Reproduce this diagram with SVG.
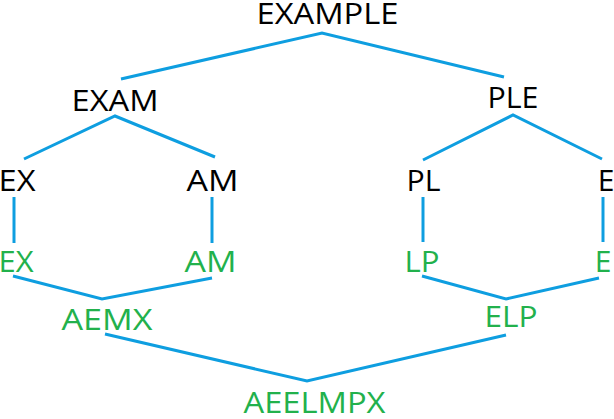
<svg xmlns="http://www.w3.org/2000/svg" width="614" height="419" viewBox="0 0 614 419">
<style>
text{font-family:"Open Sans","Liberation Sans",sans-serif;font-size:30px;text-anchor:middle}
.s{fill:#000}
.m{fill:#22B14C}
.c{fill:none;stroke:#0E9EE0;stroke-width:3;stroke-linejoin:miter;stroke-linecap:butt}
</style>
<rect width="614" height="419" fill="#fff"/>
<g id="connectors">
<polyline class="c" points="121,79 322,33 504,77"/>
<polyline class="c" points="24,159 115,116 215,157"/>
<polyline class="c" points="423,160 513,115 602,159"/>
<line class="c" x1="14" y1="197" x2="14" y2="243"/>
<line class="c" x1="212" y1="197" x2="212" y2="243"/>
<line class="c" x1="423" y1="197" x2="423" y2="242"/>
<line class="c" x1="603" y1="197" x2="603" y2="242"/>
<polyline class="c" points="13,276 102,299 212,278"/>
<polyline class="c" points="422,276 506,299 599,278"/>
<polyline class="c" points="105,334 307,381 506,335"/>
</g>
<g id="n-example"><text class="s" x="327.5" y="24" textLength="142" lengthAdjust="spacingAndGlyphs">EXAMPLE</text></g>
<g id="n-exam"><text class="s" x="115" y="111" textLength="87" lengthAdjust="spacingAndGlyphs">EXAM</text></g>
<g id="n-ple"><text class="s" x="513" y="108" textLength="51" lengthAdjust="spacingAndGlyphs">PLE</text></g>
<g id="n-ex"><text class="s" x="17" y="191" textLength="37" lengthAdjust="spacingAndGlyphs">EX</text></g>
<g id="n-am"><text class="s" x="212.5" y="191" textLength="52" lengthAdjust="spacingAndGlyphs">AM</text></g>
<g id="n-pl"><text class="s" x="423.5" y="191" textLength="34" lengthAdjust="spacingAndGlyphs">PL</text></g>
<g id="n-e"><text class="s" x="606" y="191">E</text></g>
<g id="n-ex2"><text class="m" x="16" y="272" textLength="35" lengthAdjust="spacingAndGlyphs">EX</text></g>
<g id="n-am2"><text class="m" x="210.5" y="272" textLength="52" lengthAdjust="spacingAndGlyphs">AM</text></g>
<g id="n-lp"><text class="m" x="422" y="272" textLength="35" lengthAdjust="spacingAndGlyphs">LP</text></g>
<g id="n-e2"><text class="m" x="603" y="272">E</text></g>
<g id="n-aemx"><text class="m" x="107" y="330" textLength="91" lengthAdjust="spacingAndGlyphs">AEMX</text></g>
<g id="n-elp"><text class="m" x="511" y="327" textLength="53" lengthAdjust="spacingAndGlyphs">ELP</text></g>
<g id="n-aeelmpx"><text class="m" x="314.5" y="413" textLength="142" lengthAdjust="spacingAndGlyphs">AEELMPX</text></g>
</svg>
